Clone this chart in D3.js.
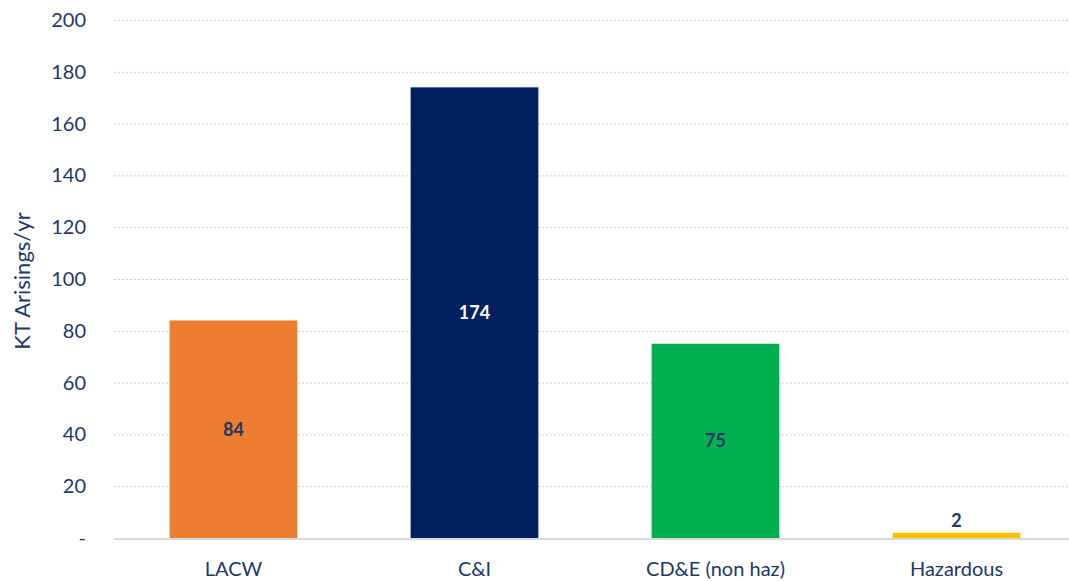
<!DOCTYPE html>
<html lang="en">
    <head>
        <meta charset="UTF-8">
        <title>KT Arisings</title>
        <style>
            body { margin: 0; background: #fff; }
            text { font-family: Lato, "Open Sans", sans-serif; }
        </style>
        <script type="text/javascript" src="https://cdnjs.cloudflare.com/ajax/libs/d3/7.8.5/d3.min.js"></script>
    </head>
    <body>
        <div id="chart"></div>
        <script type="text/javascript">
            var categories = ['LACW', 'C&I', 'CD&E (non haz)', 'Hazardous'];
            var values = [84, 174, 75, 2];
            var barColors = ['#ED7D31', '#002060', '#00B050', '#FFC000'];
            var labelColors = ['#1F3864', '#FFFFFF', '#1F3864', '#1F3864'];
            var yTicks = [0, 20, 40, 60, 80, 100, 120, 140, 160, 180, 200];

            var WIDTH = 1069;
            var HEIGHT = 581;
            var TEXT = '#1F3864';

            var svg = d3.select('#chart').append('svg')
                .attr('width', WIDTH)
                .attr('height', HEIGHT);

            var x = d3.scaleBand()
                .domain(categories)
                .range([113, 1077])
                .paddingInner(0.47)
                .paddingOuter(0.235);

            var y = d3.scaleLinear()
                .domain([0, 200])
                .range([538, 20]);

            // gridlines
            svg.append('g')
                .selectAll('line')
                .data(yTicks.filter(function (d) { return d > 0; }))
                .join('line')
                .attr('x1', 114)
                .attr('x2', WIDTH)
                .attr('y1', function (d) { return y(d) + 0.5; })
                .attr('y2', function (d) { return y(d) + 0.5; })
                .attr('stroke', '#D0D0D0')
                .attr('stroke-width', 1)
                .attr('stroke-dasharray', '2,2');

            // y axis labels
            var yAxis = d3.axisLeft(y)
                .tickValues(yTicks)
                .tickSize(0)
                .tickPadding(0)
                .tickFormat(function (d) { return d === 0 ? '-' : d; });

            var yg = svg.append('g')
                .attr('transform', 'translate(86,0)')
                .call(yAxis);
            yg.select('.domain').remove();
            yg.selectAll('text')
                .attr('fill', TEXT)
                .style('font-size', '20px');

            // bars
            svg.append('g')
                .selectAll('rect')
                .data(values)
                .join('rect')
                .attr('x', function (d, i) { return x(categories[i]); })
                .attr('width', x.bandwidth())
                .attr('y', function (d) { return y(d); })
                .attr('height', function (d) { return y(0) - y(d); })
                .attr('fill', function (d, i) { return barColors[i]; });

            // baseline
            svg.append('line')
                .attr('x1', 114)
                .attr('x2', WIDTH)
                .attr('y1', y(0) + 1)
                .attr('y2', y(0) + 1)
                .attr('stroke', '#D9D9D9')
                .attr('stroke-width', 2);

            // value labels
            svg.append('g')
                .selectAll('text')
                .data(values)
                .join('text')
                .attr('x', function (d, i) { return x(categories[i]) + x.bandwidth() / 2; })
                .attr('y', function (d) {
                    return d < 10 ? y(d) - 12 : (y(d) + y(0)) / 2;
                })
                .attr('dy', '0.35em')
                .attr('text-anchor', 'middle')
                .attr('fill', function (d, i) { return labelColors[i]; })
                .style('font-size', '18px')
                .style('font-weight', 'bold')
                .text(function (d) { return d; });

            // x axis labels
            var xAxis = d3.axisBottom(x).tickSize(0).tickPadding(0);
            var xg = svg.append('g')
                .attr('transform', 'translate(0,' + (y(0) + 31) + ')')
                .call(xAxis);
            xg.select('.domain').remove();
            xg.selectAll('text')
                .attr('dy', '0.35em')
                .attr('fill', TEXT)
                .style('font-size', '20px');

            // y axis title
            svg.append('text')
                .attr('transform', 'translate(30,281) rotate(-90)')
                .attr('text-anchor', 'middle')
                .attr('fill', TEXT)
                .style('font-size', '22px')
                .text('KT Arisings/yr');
        </script>
    </body>
</html>
